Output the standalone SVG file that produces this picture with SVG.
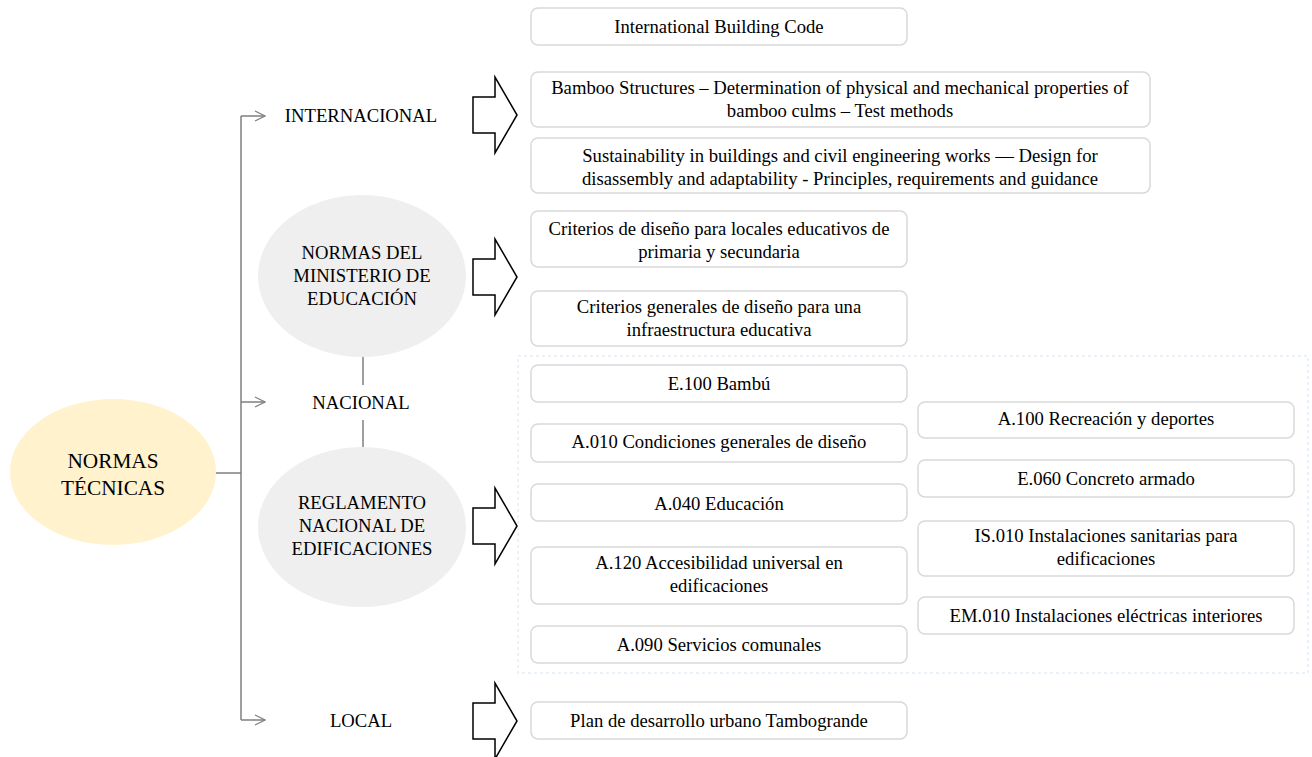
<svg xmlns="http://www.w3.org/2000/svg" width="1312" height="757" viewBox="0 0 1312 757" font-family="'Liberation Serif', Tinos, 'Noto Serif', 'DejaVu Serif', serif">
<style>
text{font-family:'Liberation Serif', Tinos, 'Noto Serif', 'DejaVu Serif', serif;font-size:18.67px;fill:#000;text-anchor:middle}
.main{font-size:21.3px}
.box{fill:#fff;stroke:#d9d9d9;stroke-width:1.5}
.gray{fill:#efefef}
.conn{fill:none;stroke:#7f7f7f;stroke-width:1.5}
.blk{fill:#fff;stroke:#000;stroke-width:1.5;stroke-linejoin:miter}
</style>
<defs>
<marker id="open" markerWidth="12" markerHeight="12" refX="11" refY="6" orient="auto" markerUnits="userSpaceOnUse">
<path d="M1,1 L11,6 L1,11" fill="none" stroke="#7f7f7f" stroke-width="1.2"/>
</marker>
<path id="bigarrow" d="M0,-18 H22 V-38 L44,0 L22,38 V18 H0 Z"/>
</defs>
<rect x="518" y="356" width="790" height="317" fill="none" stroke="#d6e4f2" stroke-width="1" stroke-dasharray="3,3"/>
<g id="connectors">
<path class="conn" d="M216,473 H241" stroke="#404040"/>
<path class="conn" d="M241,116 V720"/>
<path class="conn" d="M241,116 H265" marker-end="url(#open)"/>
<path class="conn" d="M241,402 H265" marker-end="url(#open)"/>
<path class="conn" d="M241,720 H265" marker-end="url(#open)"/>
<path class="conn" d="M363,357 V385" stroke="#595959"/>
<path class="conn" d="M363,420 V447" stroke="#595959"/>
<use href="#bigarrow" class="blk" transform="translate(473,115)"/>
<use href="#bigarrow" class="blk" transform="translate(473,277)"/>
<use href="#bigarrow" class="blk" transform="translate(473,526)"/>
<use href="#bigarrow" class="blk" transform="translate(473,721)"/>
</g>
<g id="normas-tecnicas">
<ellipse cx="113" cy="472" rx="103" ry="73" fill="#fff2cc"/>
<text class="main" x="113" y="468">NORMAS</text>
<text class="main" x="113" y="495">TÉCNICAS</text>
</g>
<g id="internacional"><text x="361" y="122">INTERNACIONAL</text></g>
<g id="nacional"><text x="361" y="409">NACIONAL</text></g>
<g id="local"><text x="361" y="727">LOCAL</text></g>
<g id="minedu">
<ellipse class="gray" cx="362" cy="276" rx="104" ry="81"/>
<text x="362" y="259">NORMAS DEL</text>
<text x="362" y="282">MINISTERIO DE</text>
<text x="362" y="305">EDUCACIÓN</text>
</g>
<g id="rne">
<ellipse class="gray" cx="362" cy="527" rx="104" ry="80"/>
<text x="362" y="509">REGLAMENTO</text>
<text x="362" y="532">NACIONAL DE</text>
<text x="362" y="555">EDIFICACIONES</text>
</g>
<g id="ibc"><rect class="box" x="531" y="8" width="376" height="37" rx="7"/><text x="719" y="33">International Building Code</text></g>
<g id="bamboo"><rect class="box" x="531" y="72" width="619" height="55" rx="7"/><text x="840" y="94">Bamboo Structures – Determination of physical and mechanical properties of</text><text x="840" y="117">bamboo culms – Test methods</text></g>
<g id="sustain"><rect class="box" x="531" y="138" width="619" height="55" rx="7"/><text x="840" y="162">Sustainability in buildings and civil engineering works — Design for</text><text x="840" y="185">disassembly and adaptability - Principles, requirements and guidance</text></g>
<g id="criterios1"><rect class="box" x="531" y="211" width="376" height="56" rx="7"/><text x="719" y="235">Criterios de diseño para locales educativos de</text><text x="719" y="258">primaria y secundaria</text></g>
<g id="criterios2"><rect class="box" x="531" y="291" width="376" height="55" rx="7"/><text x="719" y="313">Criterios generales de diseño para una</text><text x="719" y="336">infraestructura educativa</text></g>
<g id="e100"><rect class="box" x="531" y="365" width="376" height="37" rx="7"/><text x="719" y="390">E.100 Bambú</text></g>
<g id="a010"><rect class="box" x="531" y="424" width="376" height="38" rx="7"/><text x="719" y="448">A.010 Condiciones generales de diseño</text></g>
<g id="a040"><rect class="box" x="531" y="484" width="376" height="37" rx="7"/><text x="719" y="510">A.040 Educación</text></g>
<g id="a120"><rect class="box" x="531" y="547" width="376" height="57" rx="7"/><text x="719" y="569">A.120 Accesibilidad universal en</text><text x="719" y="592">edificaciones</text></g>
<g id="a090"><rect class="box" x="531" y="626" width="376" height="37" rx="7"/><text x="719" y="651">A.090 Servicios comunales</text></g>
<g id="a100"><rect class="box" x="918" y="402" width="376" height="36" rx="7"/><text x="1106" y="425">A.100 Recreación y deportes</text></g>
<g id="e060"><rect class="box" x="918" y="460" width="376" height="37" rx="7"/><text x="1106" y="485">E.060 Concreto armado</text></g>
<g id="is010"><rect class="box" x="918" y="521" width="376" height="55" rx="7"/><text x="1106" y="542">IS.010 Instalaciones sanitarias para</text><text x="1106" y="565">edificaciones</text></g>
<g id="em010"><rect class="box" x="918" y="597" width="376" height="37" rx="7"/><text x="1106" y="622">EM.010 Instalaciones eléctricas interiores</text></g>
<g id="plan"><rect class="box" x="531" y="702" width="376" height="37" rx="7"/><text x="719" y="727">Plan de desarrollo urbano Tambogrande</text></g>
</svg>
